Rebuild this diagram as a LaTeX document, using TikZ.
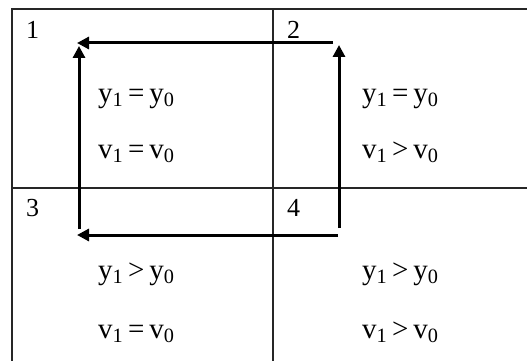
\documentclass[tikz,border=0pt]{standalone}
\usepackage{fontspec}
\setmainfont{Liberation Serif}
\usetikzlibrary{arrows.meta}
\tikzset{
  grid/.style={line width=1.4pt, black!85},
  flow/.style={line width=3pt, black, -{Triangle[length=12pt,width=12pt]}},
  cellno/.style={inner sep=0pt, anchor=base west, font=\fontsize{26}{30}\selectfont},
  eqn/.style={inner sep=0pt, anchor=base west, font=\fontsize{29}{34}\selectfont},
}
\begin{document}
\begin{tikzpicture}[x=1pt,y=-1pt]
\useasboundingbox (0,0) rectangle (527,361);
% grid
\draw[grid] (527,9) -- (12,9) -- (12,361);
\draw[grid] (273,9) -- (273,361);
\draw[grid] (12,188) -- (527,188);
% cell numbers
\node[cellno] (n1) at (26,39) {1};
\node[cellno] (n2) at (287,39) {2};
\node[cellno] (n3) at (26,216) {3};
\node[cellno] (n4) at (287,216) {4};
% equations
\node[eqn] (e1a) at (98,102) {y\textsubscript{1}\,=\,y\textsubscript{0}};
\node[eqn] (e1b) at (98,158) {v\textsubscript{1}\,=\,v\textsubscript{0}};
\node[eqn] (e2a) at (362,102) {y\textsubscript{1}\,=\,y\textsubscript{0}};
\node[eqn] (e2b) at (362,158) {v\textsubscript{1}\,>\,v\textsubscript{0}};
\node[eqn] (e3a) at (98,279) {y\textsubscript{1}\,>\,y\textsubscript{0}};
\node[eqn] (e3b) at (98,338) {v\textsubscript{1}\,=\,v\textsubscript{0}};
\node[eqn] (e4a) at (362,279) {y\textsubscript{1}\,>\,y\textsubscript{0}};
\node[eqn] (e4b) at (362,338) {v\textsubscript{1}\,>\,v\textsubscript{0}};
% arrow end points
\coordinate (rb) at (339,228);
\coordinate (rt) at (339,45);
\coordinate (tr) at (333,43);
\coordinate (tl) at (77,43);
\coordinate (lb) at (79,229);
\coordinate (lt) at (79,46);
\coordinate (br) at (338,235);
\coordinate (bl) at (77,235);
\draw[flow] (rb) -- (rt);
\draw[flow] (tr) -- (tl);
\draw[flow] (lb) -- (lt);
\draw[flow] (br) -- (bl);
\end{tikzpicture}
\end{document}
